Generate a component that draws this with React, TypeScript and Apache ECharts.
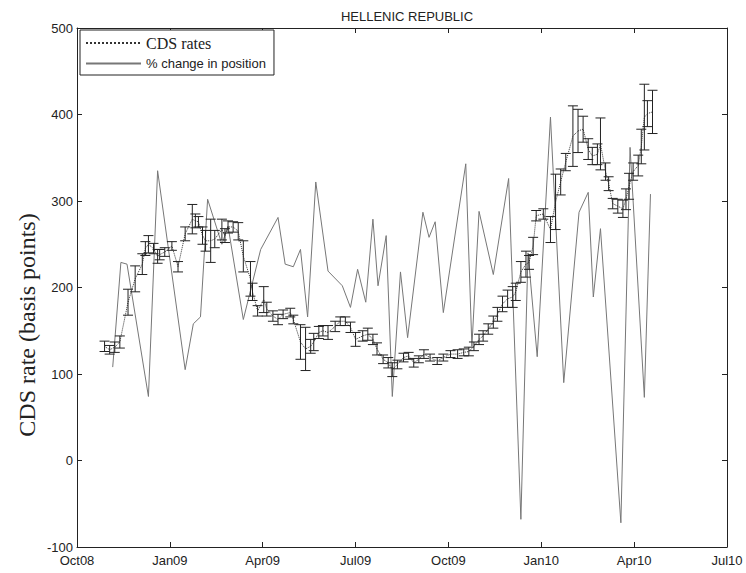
import React, { useEffect, useRef } from "react";
import * as echarts from "echarts";

const chartTitle = "HELLENIC REPUBLIC";
const yAxisTitle = "CDS rate (basis points)";
const xTickLabels = ["Oct08", "Jan09", "Apr09", "Jul09", "Oct09", "Jan10", "Apr10", "Jul10"];

// days since 2008-10-01
const cdsDay = [
  27, 32, 37, 42, 50, 57, 64, 67, 70, 75, 79, 81, 86, 93, 99, 106, 113, 116, 119, 123,
  126, 131, 135, 142, 145, 148, 153, 158, 163, 170, 172, 177, 183, 186, 192, 197, 202, 209, 212, 219,
  224, 229, 232, 237, 241, 246, 253, 258, 263, 268, 273, 280, 285, 290, 294, 300, 305, 309, 314, 320,
  325, 330, 335, 340, 346, 353, 359, 366, 373, 379, 384, 389, 394, 398, 403, 408, 412, 417, 422, 427,
  430, 435, 440, 443, 447, 450, 457, 464, 469, 474, 479, 486, 491, 496, 501, 505, 510, 513, 518, 521,
  525, 530, 535, 538, 541, 545, 550, 553, 556, 559, 564,
];
const cdsRate = [
  132, 128, 131, 137, 183, 210, 227, 245, 250, 245, 236, 238, 241, 248, 224, 262, 279, 277, 276, 260,
  254, 254, 256, 267, 260, 270, 270, 265, 236, 210, 195, 173, 186, 175, 167, 163, 169, 171, 163, 137,
  129, 132, 137, 148, 150, 148, 155, 161, 161, 154, 140, 144, 146, 140, 129, 117, 113, 105, 111, 119,
  121, 113, 117, 123, 119, 115, 119, 123, 123, 125, 126, 132, 140, 144, 152, 160, 169, 181, 187, 189,
  195, 218, 227, 229, 248, 283, 285, 267, 299, 322, 345, 375, 381, 383, 360, 352, 354, 366, 334, 320,
  297, 294, 291, 302, 317, 334, 341, 363, 397, 401, 403,
];
const cdsErr = [
  6, 5, 6, 7, 15, 15, 12, 8, 10, 6, 8, 6, 5, 5, 6, 8, 17, 8, 6, 10,
  12, 25, 10, 12, 8, 7, 6, 10, 18, 20, 10, 6, 15, 8, 6, 6, 5, 5, 5, 20,
  25, 8, 10, 7, 6, 8, 6, 5, 5, 6, 8, 6, 7, 6, 7, 5, 6, 8, 5, 5,
  4, 5, 4, 5, 4, 4, 4, 4, 5, 4, 5, 5, 6, 6, 6, 7, 8, 9, 10, 12,
  10, 12, 15, 8, 10, 6, 6, 15, 32, 15, 10, 35, 25, 15, 12, 10, 12, 30, 10, 8,
  6, 8, 10, 12, 15, 10, 12, 20, 38, 15, 25,
];

const chgDay = [
  35, 43, 49, 70, 79, 106, 114, 121, 128, 142, 148, 163, 180, 197, 204, 212, 219, 226, 234, 246,
  260, 268, 275, 283, 290, 295, 303, 309, 317, 324, 339, 345, 351, 359, 381, 387, 394, 408, 423, 435,
  442, 451, 464, 477, 492, 501, 506, 513, 533, 542, 556, 562,
];
const chgValue = [
  108, 229, 227, 74, 335, 105, 158, 166, 302, 250, 271, 163, 244, 281, 227, 224, 244, 166, 322, 219,
  202, 177, 221, 183, 279, 202, 260, 74, 218, 142, 287, 258, 276, 171, 343, 132, 288, 215, 326, -68,
  240, 120, 397, 90, 287, 310, 189, 268, -72, 362, 73, 308,
];

const AXIS = "#222";
const FONT = "'Liberation Sans', Arial, sans-serif";

export default function App() {
  const ref = useRef<HTMLDivElement>(null);
  useEffect(() => {
    if (!ref.current) return;
    const chart = echarts.init(ref.current, undefined, { renderer: "svg" });
    const xCommon = {
      type: "value" as const,
      min: 0,
      max: 637,
      interval: 91,
      axisLine: { show: true, onZero: false, lineStyle: { color: AXIS, width: 1 } },
      axisTick: { show: true, inside: true, length: 5, lineStyle: { color: AXIS } },
      splitLine: { show: false },
    };
    const yCommon = {
      type: "value" as const,
      min: -100,
      max: 500,
      interval: 100,
      axisLine: { show: true, onZero: false, lineStyle: { color: AXIS, width: 1 } },
      axisTick: { show: true, inside: true, length: 5, lineStyle: { color: AXIS } },
      splitLine: { show: false },
    };
    const errData = cdsDay.map((d, i) => [d, cdsRate[i], cdsErr[i]]);
    chart.setOption({
      animation: false,
      backgroundColor: "#fff",
      title: {
        text: chartTitle,
        left: 402,
        top: 5,
        textAlign: "center",
        textStyle: { fontFamily: FONT, fontSize: 13, fontWeight: "normal", color: "#222" },
      },
      grid: { left: 77, right: 19, top: 28, bottom: 26 },
      legend: {
        orient: "vertical",
        left: 80,
        top: 30,
        padding: [5, 8, 5, 5],
        itemGap: 6,
        itemWidth: 55,
        itemHeight: 14,
        borderColor: AXIS,
        borderWidth: 1,
        backgroundColor: "#fff",
        itemStyle: { opacity: 0 },
        data: [
          { name: "CDS rates", textStyle: { fontFamily: "'Liberation Serif', serif", fontSize: 16, color: "#222" } },
          { name: "% change in position", textStyle: { fontFamily: FONT, fontSize: 13, color: "#222" } },
        ],
      },
      xAxis: [
        {
          ...xCommon,
          position: "bottom",
          axisLabel: {
            show: true,
            margin: 7,
            fontFamily: FONT,
            fontSize: 13,
            color: "#222",
            showMinLabel: true,
            showMaxLabel: true,
            formatter: (v: number) => xTickLabels[Math.round(v / 91)] ?? "",
          },
        },
        { ...xCommon, position: "top", axisLabel: { show: false } },
      ],
      yAxis: [
        {
          ...yCommon,
          position: "left",
          axisLabel: { show: true, margin: 4, fontFamily: FONT, fontSize: 13, color: "#222" },
        },
        { ...yCommon, position: "right", axisLabel: { show: false } },
      ],
      graphic: [
        {
          type: "text",
          x: 27,
          y: 325,
          rotation: Math.PI / 2,
          style: {
            text: yAxisTitle,
            font: "24px 'Liberation Serif', serif",
            fill: "#222",
            align: "center",
            verticalAlign: "middle",
          },
        },
      ],
      series: [
        {
          name: "% change in position",
          type: "line",
          xAxisIndex: 0,
          yAxisIndex: 0,
          data: chgDay.map((d, i) => [d, chgValue[i]]),
          symbol: "none",
          itemStyle: { color: "#555" },
          lineStyle: { color: "#777", width: 1 },
          z: 2,
        },
        {
          name: "CDS rates",
          type: "line",
          xAxisIndex: 0,
          yAxisIndex: 0,
          data: cdsDay.map((d, i) => [d, cdsRate[i]]),
          symbol: "none",
          itemStyle: { color: "#333" },
          lineStyle: { color: "#333", width: 1, type: "dotted" },
          z: 3,
        },
        {
          name: "errorbars",
          type: "custom",
          xAxisIndex: 0,
          yAxisIndex: 0,
          data: errData,
          encode: { x: 0, y: 1 },
          z: 4,
          renderItem: (_params: any, api: any) => {
            const x = api.value(0);
            const y = api.value(1);
            const e = api.value(2);
            const top = api.coord([x, y + e]);
            const bot = api.coord([x, y - e]);
            const hw = 5;
            const style = { stroke: "#222", lineWidth: 1 };
            return {
              type: "group",
              children: [
                { type: "line", shape: { x1: top[0], y1: top[1], x2: bot[0], y2: bot[1] }, style },
                { type: "line", shape: { x1: top[0] - hw, y1: top[1], x2: top[0] + hw, y2: top[1] }, style },
                { type: "line", shape: { x1: bot[0] - hw, y1: bot[1], x2: bot[0] + hw, y2: bot[1] }, style },
              ],
            };
          },
        },
      ],
    });
    return () => chart.dispose();
  }, []);
  return <div ref={ref} style={{ width: 746, height: 573, position: "absolute", left: 0, top: 0 }} />;
}
